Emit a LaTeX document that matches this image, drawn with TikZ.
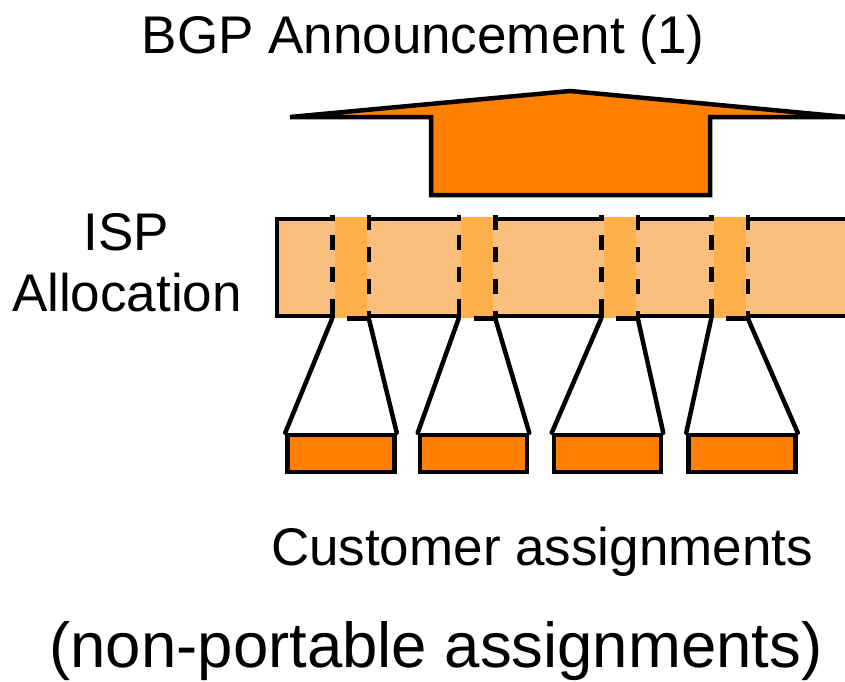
\documentclass[tikz,border=0pt]{standalone}
\usepackage{fontspec}
\setmainfont{Liberation Sans}
\usetikzlibrary{positioning}

\definecolor{deeporange}{RGB}{255,127,0}
\definecolor{paleorange}{RGB}{250,191,126}
\definecolor{midorange}{RGB}{253,176,76}

\begin{document}
\begin{tikzpicture}[
  x=1pt, y=-1pt,
  line width=4.5pt,
  label/.style={font=\fontsize{53}{62}\selectfont, anchor=base, inner sep=0pt},
  band/.style={rectangle, draw, fill=paleorange, inner sep=0pt, minimum width=573pt, minimum height=97pt},
  slot/.style={rectangle, fill=midorange, inner sep=0pt, minimum width=32pt, minimum height=101pt},
  custbox/.style={rectangle, draw, fill=deeporange, inner sep=0pt, minimum width=107pt, minimum height=37pt},
  slotedge/.style={dash pattern=on 15pt off 17pt, line cap=butt},
  fan/.style={line cap=round}
]
\useasboundingbox (0,0) rectangle (845,681);

% Announcement arrow
\draw[fill=deeporange, line join=miter] (290,117) -- (570,91) -- (847,117) -- (710,117)
  -- (710,195) -- (431,195) -- (431,117) -- cycle;
\node[label] (bgp) at (423,53) {BGP Announcement (1)};

% ISP allocation
\node[band] (isp) at (563.5,267.5) {};
\node[label] (isptxt) at (126,250) {ISP};
\node[label] (alloc) at (127,311) {Allocation};

% Slots inside the allocation
\node[slot] (slot1) at (350.5,267.5) {};
\node[slot] (slot2) at (477,267.5) {};
\node[slot] (slot3) at (619.5,267.5) {};
\node[slot] (slot4) at (729.5,267.5) {};

\foreach \i/\ph in {1/12, 2/12, 3/12, 4/12} {
  \draw[slotedge, dash phase=\ph pt] (slot\i.north west) -- (slot\i.south west);
  \draw[slotedge, dash phase=0pt] (slot\i.north east) -- (slot\i.south east);
  \draw[line cap=butt] ([xshift=15pt, yshift=2pt]slot\i.south west) -- ([yshift=2pt]slot\i.south east);
}

% Customer assignments
\node[custbox] (cust1) at (341,453.5) {};
\node[custbox] (cust2) at (473.5,453.5) {};
\node[custbox] (cust3) at (607.5,453.5) {};
\node[custbox] (cust4) at (742,453.5) {};

\foreach \i in {1,...,4} {
  \draw[fan] ([yshift=2pt]slot\i.south west) -- (cust\i.north west);
  \draw[fan] ([yshift=2pt]slot\i.south east) -- (cust\i.north east);
}

\node[label] (custtxt) at (542,565) {Customer assignments};
\node[label, font=\fontsize{63.5}{72}\selectfont] (note) at (436,667) {(non-portable assignments)};

\end{tikzpicture}
\end{document}
